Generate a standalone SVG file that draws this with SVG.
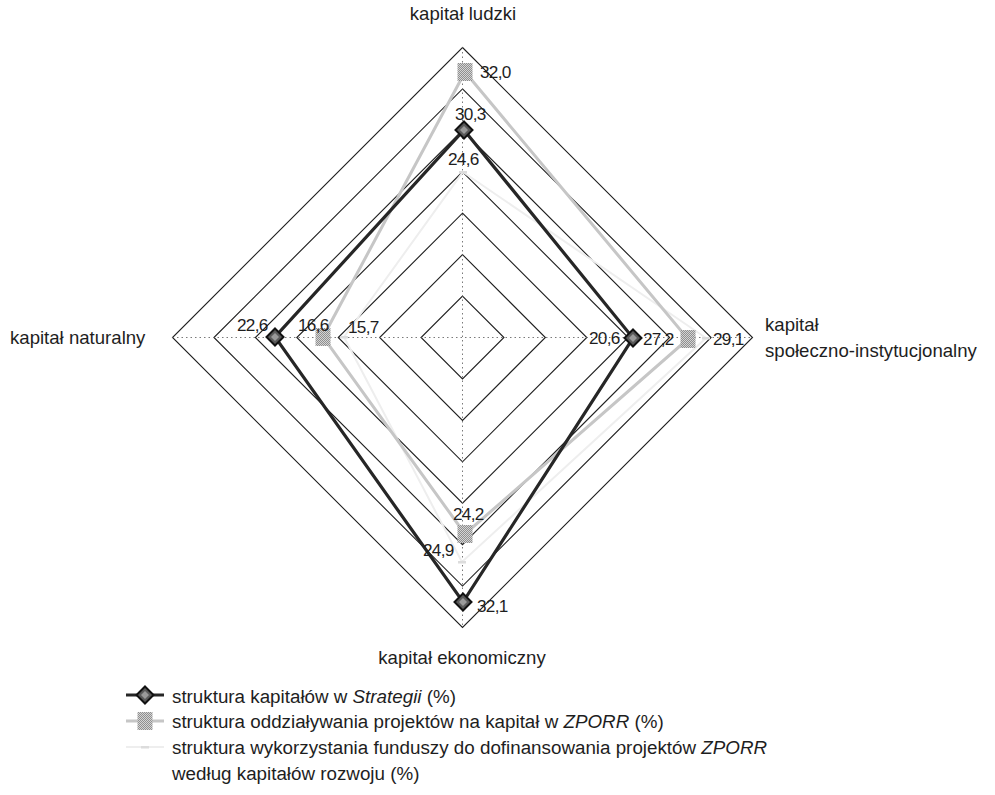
<svg xmlns="http://www.w3.org/2000/svg" width="995" height="795" viewBox="0 0 995 795">
<style>
  .ring{fill:none;stroke:#1e1e1e;stroke-width:1.1}
  .axis{stroke:#7a7a7a;stroke-width:1;stroke-dasharray:1.5 3;fill:none}
  .t{font-family:"Liberation Sans",Arial,sans-serif;fill:#1e1e1e}
  .lbl{font-size:17.2px;letter-spacing:-0.7px}
  .ax{font-size:18.6px}
  .leg{font-size:18.8px}
  .it{font-style:italic}
  .s1{fill:none;stroke:#262626;stroke-width:3.2;stroke-linejoin:miter}
  .s2{fill:none;stroke:#c6c6c6;stroke-width:3;stroke-linejoin:miter}
  .s3{fill:none;stroke:#eeeeee;stroke-width:2}
</style>
<defs>
  <pattern id="dither" width="2" height="2" patternUnits="userSpaceOnUse">
    <rect width="2" height="2" fill="#d4d4d4"/>
    <rect width="1" height="1" fill="#8f8f8f"/>
    <rect x="1" y="1" width="1" height="1" fill="#8f8f8f"/>
  </pattern>
  <g id="mk1">
    <path d="M0,-8.5 L8.5,0 L0,8.5 L-8.5,0Z" fill="#5a5a5a" stroke="#111" stroke-width="2"/>
    <path d="M0,-4 L4,0 L0,4 L-4,0Z" fill="#9a9a9a"/>
  </g>
  <g id="mk2">
    <rect x="-7.5" y="-9" width="15" height="18" fill="url(#dither)"/>
  </g>
  <g id="mk3">
    <rect x="-4" y="-1" width="8" height="2.5" fill="#dcdcdc"/>
  </g>
</defs>
<rect width="995" height="795" fill="#ffffff"/>

<g id="grid">
  <polygon class="ring" points="462.5,296.07 503.93,337.5 462.5,378.93 421.07,337.5"/>
  <polygon class="ring" points="462.5,254.64 545.36,337.5 462.5,420.36 379.64,337.5"/>
  <polygon class="ring" points="462.5,213.21 586.79,337.5 462.5,461.79 338.21,337.5"/>
  <polygon class="ring" points="462.5,171.79 628.21,337.5 462.5,503.21 296.79,337.5"/>
  <polygon class="ring" points="462.5,130.36 669.64,337.5 462.5,544.64 255.36,337.5"/>
  <polygon class="ring" points="462.5,88.93 711.07,337.5 462.5,586.07 213.93,337.5"/>
  <polygon class="ring" points="462.5,47.5 752.5,337.5 462.5,627.5 172.5,337.5"/>
  <line class="axis" x1="462.5" y1="47.5" x2="462.5" y2="627.5"/>
  <line class="axis" x1="172.5" y1="337.5" x2="752.5" y2="337.5"/>
</g>

<g id="connectors">
  <polygon id="series3" class="s3" points="463,172 706,338 462,562 344,337"/>
  <polygon id="series2" class="s2" points="465,72 688,339 465,534 323,337"/>
  <polygon id="series1" class="s1" points="464,130 633,338 463,602 275,337"/>
</g>

<g id="markers3">
  <use href="#mk3" x="463" y="172"/>
  <use href="#mk3" x="706" y="338"/>
  <use href="#mk3" x="462" y="562"/>
  <use href="#mk3" x="344" y="337"/>
</g>
<g id="markers2">
  <use href="#mk2" x="465" y="72"/>
  <use href="#mk2" x="688" y="339"/>
  <use href="#mk2" x="465" y="534"/>
  <use href="#mk2" x="323" y="337"/>
</g>
<g id="markers1">
  <use href="#mk1" x="464" y="130"/>
  <use href="#mk1" x="633" y="338"/>
  <use href="#mk1" x="463" y="602"/>
  <use href="#mk1" x="275" y="337"/>
</g>

<g id="data-labels" class="t lbl">
  <text x="480" y="78">32,0</text>
  <text x="455" y="120">30,3</text>
  <text x="448" y="165">24,6</text>
  <text x="237" y="331">22,6</text>
  <text x="298" y="331">16,6</text>
  <text x="348" y="333">15,7</text>
  <text x="589" y="344">20,6</text>
  <text x="643" y="345">27,2</text>
  <text x="713" y="345">29,1</text>
  <text x="453" y="520">24,2</text>
  <text x="423" y="556">24,9</text>
  <text x="477" y="612">32,1</text>
</g>

<g id="axis-ludzki"><text class="t ax" x="463" y="20" text-anchor="middle">kapitał ludzki</text></g>
<g id="axis-naturalny"><text class="t ax" x="10" y="344">kapitał naturalny</text></g>
<g id="axis-spoleczny">
  <text class="t ax" x="765" y="331">kapitał</text>
  <text class="t ax" x="765" y="357">społeczno-instytucjonalny</text>
</g>
<g id="axis-ekonomiczny"><text class="t ax" x="462" y="664" text-anchor="middle">kapitał ekonomiczny</text></g>

<g id="legend">
  <g id="legend-1">
    <line x1="126" y1="695" x2="164" y2="695" class="s1"/>
    <use href="#mk1" x="145" y="695"/>
    <text class="t leg" x="172" y="703">struktura kapitałów w <tspan class="it">Strategii</tspan> (%)</text>
  </g>
  <g id="legend-2">
    <line x1="126" y1="721" x2="164" y2="721" class="s2"/>
    <use href="#mk2" x="145" y="721"/>
    <text class="t leg" x="172" y="728">struktura oddziaływania projektów na kapitał w <tspan class="it">ZPORR</tspan> (%)</text>
  </g>
  <g id="legend-3">
    <line x1="126" y1="747" x2="164" y2="747" class="s3"/>
    <use href="#mk3" x="145" y="747"/>
    <text class="t leg" x="172" y="754">struktura wykorzystania funduszy do dofinansowania projektów <tspan class="it">ZPORR</tspan></text>
    <text class="t leg" x="172" y="780">według kapitałów rozwoju (%)</text>
  </g>
</g>
</svg>
